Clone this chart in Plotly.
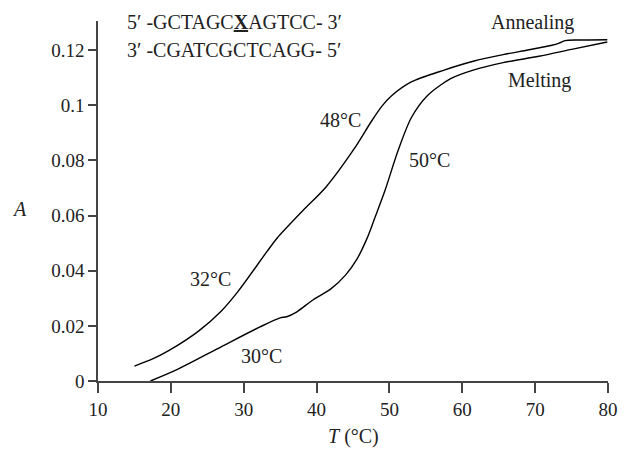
import plotly.graph_objects as go

# Annealing (upper) curve
anneal_T = [15.0, 17.5, 19.7, 23.8, 26.9, 29.2, 33.2, 34.6, 38.0, 41.3, 45.1, 47.6, 49.0, 50.3,
            53.0, 57.5, 61.5, 65.6, 69.0, 72.3, 73.3, 74.1, 76.0, 79.9]
anneal_A = [0.0054, 0.0080, 0.0110, 0.0181, 0.0253, 0.0324, 0.0470, 0.0519, 0.0615, 0.0704,
            0.0840, 0.0945, 0.0998, 0.1035, 0.1085, 0.1128, 0.1160, 0.1184, 0.1201, 0.1218,
            0.1226, 0.1235, 0.1237, 0.1238]

# Melting (lower) curve
melt_T = [17.2, 20.9, 26.9, 32.3, 35.0, 35.9, 37.3, 39.5, 42.0, 44.0, 45.5, 47.0, 48.0, 49.4,
          51.2, 53.0, 55.2, 58.4, 61.5, 65.6, 70.5, 75.0, 79.9]
melt_A = [0.0, 0.0042, 0.0124, 0.0197, 0.0229, 0.0233, 0.0251, 0.0294, 0.0335, 0.0385, 0.0440,
          0.0522, 0.0592, 0.0692, 0.0837, 0.0955, 0.1035, 0.1097, 0.1128, 0.1155, 0.1178,
          0.1203, 0.1230]

x_ticks = [10, 20, 30, 40, 50, 60, 70, 80]
y_ticks = [0, 0.02, 0.04, 0.06, 0.08, 0.1, 0.12]
y_tick_text = ["0", "0.02", "0.04", "0.06", "0.08", "0.1", "0.12"]

FONT = "Liberation Serif"
FS = 20
TICK_FS = 19

fig = go.Figure()
fig.add_trace(go.Scatter(x=anneal_T, y=anneal_A, mode="lines",
                         line=dict(color="black", width=1.4, shape="spline", smoothing=0.8),
                         showlegend=False, hoverinfo="skip"))
fig.add_trace(go.Scatter(x=melt_T, y=melt_A, mode="lines",
                         line=dict(color="black", width=1.4, shape="spline", smoothing=0.8),
                         showlegend=False, hoverinfo="skip"))

def ann(x, y, text, xanchor="center", xref="x", yref="y"):
    fig.add_annotation(x=x, y=y, xref=xref, yref=yref, text=text, showarrow=False,
                       xanchor=xanchor, yanchor="middle",
                       font=dict(family=FONT, size=FS, color="#222"))

ann(69.6, 0.1302, "Annealing")
ann(70.6, 0.1091, "Melting")
ann(43.3, 0.0946, "48°C")
ann(55.5, 0.0801, "50°C")
ann(25.4, 0.0369, "32°C")
ann(32.5, 0.0091, "30°C")
ann(13.7, 0.1302, "5′ -GCTAGC<b><span style='text-decoration:underline'>X</span></b>AGTCC- 3′",
    xanchor="left")
ann(13.7, 0.1200, "3′ -CGATCGCTCAGG- 5′", xanchor="left")
ann(-0.154, 0.478, "<i>A</i>", xref="paper", yref="paper")
ann(0.5, -0.155, "<i>T</i> (°C)", xref="paper", yref="paper")

axis_common = dict(showgrid=False, zeroline=False, showline=True, linecolor="#444",
                   linewidth=1.6, ticks="outside", tickcolor="#444", tickwidth=1.6,
                   tickfont=dict(family=FONT, size=TICK_FS, color="#222"))

fig.update_xaxes(range=[10, 80], tickvals=x_ticks, ticklen=10, **axis_common)
fig.update_yaxes(range=[0, 0.1306], tickvals=y_ticks, ticktext=y_tick_text, ticklen=8,
                 **axis_common)

fig.update_layout(width=630, height=449, margin=dict(l=98, r=13, t=21, b=68),
                  plot_bgcolor="white", paper_bgcolor="white",
                  font=dict(family=FONT, size=FS, color="#222"))

fig.write_html("out.html", config={"displayModeBar": False},
               post_script="document.body.style.margin='0';document.body.style.overflow='hidden';")
